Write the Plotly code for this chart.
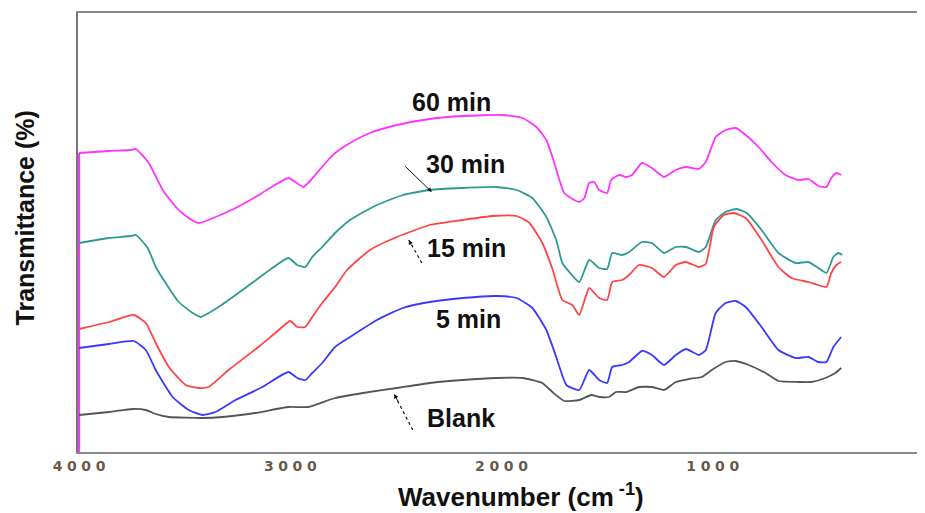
import plotly.graph_objects as go

# Wavenumber (cm-1) and relative transmittance (arbitrary units, baseline-offset)
wn_60 = [4000, 4000, 3858, 3755, 3731, 3670, 3604, 3542, 3481, 3434, 3354, 3259, 3165, 3104, 3009, 2976, 2939,
         2915, 2882, 2821, 2788, 2717, 2623, 2495, 2340, 2184, 1995, 1901, 1835, 1788, 1759, 1726,
         1703, 1679, 1632, 1608, 1585, 1561, 1538, 1500, 1481, 1443, 1410, 1382, 1335, 1288, 1231,
         1175, 1127, 1066, 1033, 986, 939, 891, 844, 783, 722, 656, 594, 547, 500, 462, 439, 415, 392]
t_60 = [0, 299, 301, 302, 303, 289, 262, 245, 234, 229, 235, 244, 255, 263, 274, 270, 265,
        269, 277, 292, 299, 309, 319, 327, 333, 336, 337, 334, 325, 312, 295, 272,
        259, 255, 250, 254, 269, 270, 262, 259, 272, 277, 275, 277, 289, 284, 275,
        282, 285, 283, 290, 315, 322, 324, 317, 305, 290, 277, 272, 273, 266, 265, 274, 279, 277]

wn_30 = [4000, 3858, 3755, 3731, 3675, 3637, 3590, 3528, 3462, 3425, 3340, 3226, 3085, 3009, 2967, 2929,
         2896, 2849, 2788, 2717, 2590, 2467, 2340, 2184, 2024, 1929, 1854, 1788, 1741, 1712, 1679,
         1632, 1585, 1538, 1500, 1476, 1429, 1396, 1335, 1288, 1231, 1175, 1127, 1066, 1033, 986,
         939, 887, 839, 769, 689, 608, 547, 500, 462, 429, 406, 387]
t_30 = [209, 214, 216, 217, 204, 185, 169, 150, 139, 135, 145, 162, 184, 194, 187, 185,
        195, 205, 219, 232, 247, 257, 262, 264, 265, 262, 254, 235, 212, 189, 180,
        170, 192, 184, 183, 199, 197, 200, 210, 209, 199, 205, 205, 200, 205, 232,
        240, 243, 239, 222, 199, 189, 190, 184, 179, 195, 199, 197]

wn_15 = [4000, 3858, 3741, 3684, 3637, 3575, 3495, 3434, 3387, 3292, 3151, 3071, 3000, 2967, 2929, 2896,
         2849, 2788, 2731, 2623, 2495, 2340, 2184, 2042, 1929, 1868, 1807, 1759, 1712, 1665, 1632,
         1585, 1538, 1500, 1476, 1429, 1396, 1349, 1288, 1231, 1175, 1127, 1066, 1033, 995, 948,
         901, 844, 769, 689, 627, 547, 500, 462, 439, 415, 392]
t_15 = [123, 130, 137, 129, 109, 85, 67, 64, 65, 82, 105, 119, 131, 125, 125, 135,
        149, 165, 182, 202, 215, 227, 232, 236, 236, 229, 209, 183, 152, 147, 137,
        164, 154, 152, 170, 172, 177, 187, 184, 175, 187, 190, 185, 188, 225, 237,
        239, 234, 212, 185, 174, 170, 167, 165, 179, 187, 190]

wn_5 = [4000, 3858, 3741, 3684, 3637, 3557, 3481, 3415, 3354, 3259, 3132, 3009, 2967, 2929, 2896, 2849,
        2788, 2717, 2590, 2467, 2340, 2184, 2024, 1929, 1854, 1788, 1741, 1693, 1632, 1585, 1538,
        1500, 1476, 1429, 1396, 1335, 1288, 1231, 1175, 1127, 1066, 1033, 986, 939, 891, 844,
        769, 689, 608, 547, 500, 462, 429, 392]
t_5 = [104, 108, 111, 102, 82, 55, 42, 37, 40, 52, 65, 80, 74, 72, 79, 89,
       105, 115, 132, 144, 150, 154, 156, 154, 144, 122, 95, 67, 62, 82, 72,
       69, 85, 87, 90, 101, 97, 87, 97, 103, 97, 102, 139, 149, 151, 145,
       125, 102, 94, 95, 90, 90, 105, 115]

wn_blank = [4000, 3858, 3746, 3684, 3637, 3575, 3415, 3321, 3165, 3009, 2915, 2788, 2656, 2495, 2340, 2184,
            2024, 1901, 1807, 1759, 1703, 1632, 1575, 1538, 1491, 1458, 1410, 1349, 1288, 1231, 1175,
            1113, 1052, 1005, 939, 891, 830, 750, 689, 594, 533, 467, 420, 392]
t_blank = [37, 40, 43, 42, 38, 35, 34, 35, 39, 45, 45, 54, 59, 64, 69, 72,
           74, 74, 69, 60, 51, 52, 57, 55, 55, 60, 60, 65, 65, 62, 70,
           73, 75, 82, 90, 91, 87, 79, 71, 70, 70, 74, 79, 84]

series = [
    ("60 min", wn_60, t_60, "#ff33ff"),
    ("30 min", wn_30, t_30, "#2f9a93"),
    ("15 min", wn_15, t_15, "#ff4444"),
    ("5 min", wn_5, t_5, "#3a3aff"),
    ("Blank", wn_blank, t_blank, "#555555"),
]

# label text anchor (wavenumber, value)
label_names = ["60 min", "30 min", "15 min", "5 min", "Blank"]
label_wn = [2236, 2170, 2165, 2156, 2193]
label_t = [350, 288, 204, 133, 34]

x_ticks = [4000, 3000, 2000, 1000, 0]

fig = go.Figure()
for name, xs, ys, col in series:
    if xs[0] == xs[1]:
        # vertical lead-in segment drawn straight (a spline would bow outside the frame)
        fig.add_trace(go.Scatter(x=xs[:2], y=ys[:2], mode="lines", showlegend=False,
                                 line=dict(color=col, width=2.2), hoverinfo="skip"))
        xs, ys = xs[1:], ys[1:]
    fig.add_trace(go.Scatter(x=xs, y=ys, mode="lines", name=name,
                             line=dict(color=col, width=1.8, shape="spline", smoothing=0.5),
                             showlegend=False))

for name, x, y in zip(label_names, label_wn, label_t):
    fig.add_annotation(x=x, y=y, text="<b>%s</b>" % name, showarrow=False,
                       font=dict(family="Liberation Sans, Arial", size=25, color="#111111"))

# solid arrow for 30 min: head on curve, pixel offset of tail
fig.add_annotation(x=2330, y=260, ax=-28, ay=-27, showarrow=True, arrowhead=2,
                   arrowsize=0.9, arrowwidth=1, arrowcolor="#111111", text="")

# dotted arrows: head (wn, value), tail (wn, value)
dot_head_wn = [2439, 2509]
dot_head_t = [212, 58]
dot_tail_wn = [2377, 2420]
dot_tail_t = [189, 22]
dot_ax = [3, 5]
dot_ay = [6, 9]
for hx, hy, tx, ty, ax, ay in zip(dot_head_wn, dot_head_t, dot_tail_wn, dot_tail_t, dot_ax, dot_ay):
    fig.add_shape(type="line", x0=tx, y0=ty, x1=hx, y1=hy, xref="x", yref="y",
                  line=dict(color="#111111", width=1.2, dash="dot"))
    fig.add_annotation(x=hx, y=hy, ax=ax, ay=ay, showarrow=True, arrowhead=2,
                       arrowsize=0.9, arrowwidth=1, arrowcolor="#111111", text="")

# axis titles
fig.add_annotation(xref="paper", yref="paper", x=0.524, y=-0.098, xanchor="center", yanchor="middle",
                   showarrow=False, text="<b>Wavenumber (cm<sup> -1</sup>)</b>",
                   font=dict(family="Liberation Sans, Arial", size=26, color="#111111"))
fig.add_annotation(xref="paper", yref="paper", x=-0.0626, y=0.532, xanchor="center", yanchor="middle",
                   showarrow=False, textangle=-90, text="<b>Transmittance (%)</b>",
                   font=dict(family="Liberation Sans, Arial", size=25, color="#111111"))

# the page body has an 8 px margin, so the figure is 8 px smaller on each side
fig.update_layout(
    width=917, height=505,
    margin=dict(l=70, r=1, t=5, b=61, autoexpand=False),
    paper_bgcolor="white", plot_bgcolor="white",
    xaxis=dict(range=[4005, 0], tickvals=x_ticks,
               ticktext=["\u2004".join(str(v)) for v in x_ticks],
               ticklabeloverflow="allow", layer="below traces",
               showgrid=False, zeroline=False, showline=True, linecolor="#888888", linewidth=2,
               mirror=True, ticks="", ticklen=0,
               tickfont=dict(family="DejaVu Sans", size=14, color="#6a5a4a", weight="bold")),
    yaxis=dict(range=[0, 439], showgrid=False, zeroline=False, showline=True, layer="below traces",
               linecolor="#777777", linewidth=2, mirror=True, showticklabels=False, ticks=""),
)

fig.write_html("out.html")
